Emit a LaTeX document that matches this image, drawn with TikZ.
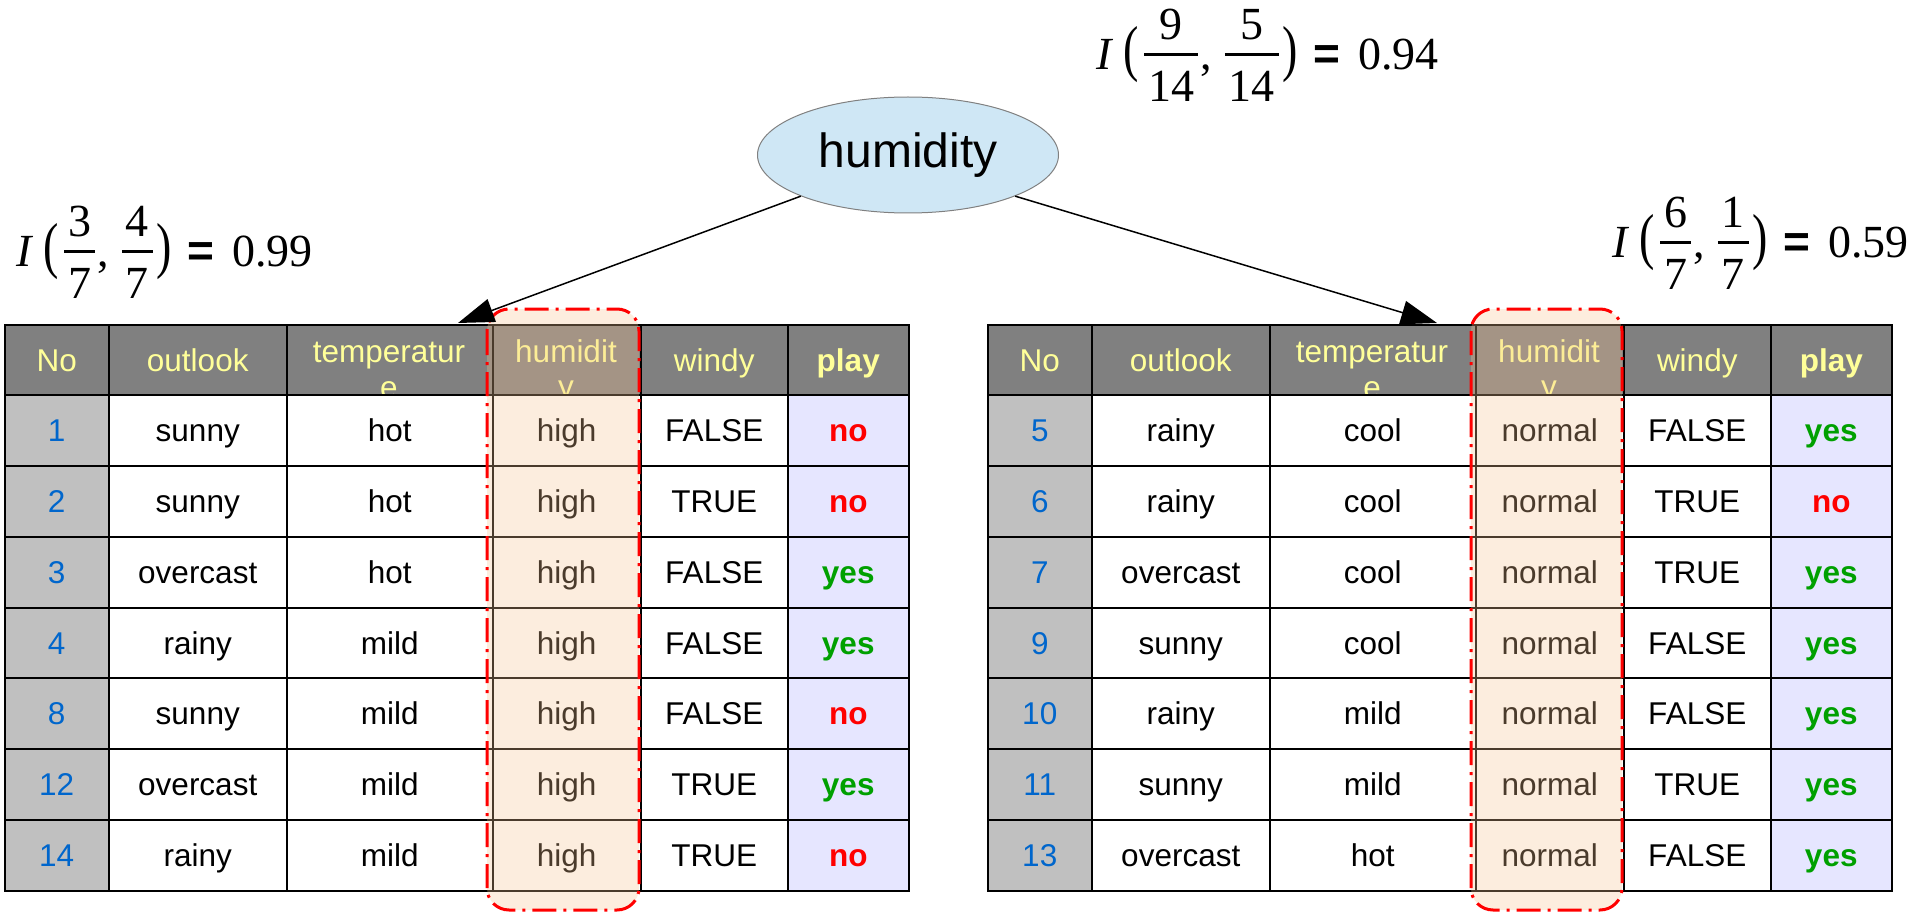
\RequirePackage{fix-cm}
\documentclass[tikz,border=0pt]{standalone}
\usepackage{amsmath}
\usepackage{graphicx}
\usepackage{fontspec}
\setmainfont{Liberation Sans}
\newfontfamily\tnr{Liberation Serif}
\usetikzlibrary{arrows.meta,shapes.geometric}

\definecolor{headgray}{RGB}{128,128,128}
\definecolor{headtext}{RGB}{255,255,153}
\definecolor{nogray}{RGB}{192,192,192}
\definecolor{playbg}{RGB}{230,230,255}
\definecolor{noblue}{RGB}{0,102,204}
\definecolor{yesgreen}{RGB}{0,160,0}
\definecolor{nored}{RGB}{255,0,0}
\definecolor{rootblue}{RGB}{207,231,245}
\definecolor{peach}{RGB}{248,196,146}

\newcommand{\cellfont}{\fontsize{31.5}{36}\selectfont}
%% fraction with serif digits and a wide bar
\newcommand{\ifr}[2]{{\genfrac{}{}{2.5pt}{0}%
  {\hspace{4pt}\raisebox{-4.5pt}{\tnr #1}\hspace{4pt}}%
  {\hspace{4pt}\raisebox{-4pt}{\tnr #2}\hspace{4pt}}}}
\newcommand{\bigpar}[1]{\raisebox{-4pt}{\scalebox{1}[1.35]{\tnr #1}}}
%% I(a/b, c/d) = value
\newcommand{\info}[5]{$\raisebox{-3.5pt}{\tnr\itshape I}\hspace{12pt}\bigpar{(}\hspace{4pt}%
  \ifr{#1}{#2}\hspace{1pt}\raisebox{-3.5pt}{\tnr ,}\hspace{12pt}\ifr{#3}{#4}\hspace{2pt}%
  \bigpar{)}\hspace{16pt}\raisebox{-4pt}{\bfseries =}\hspace{18pt}\raisebox{-3.5pt}{\tnr #5}$}

\tikzset{
  cell/.style={draw=black, line width=1.5pt, fill=white, anchor=north west, inner sep=0pt,
    minimum height=71pt, text height=22.6pt, text depth=0pt, font=\cellfont},
  headcell/.style={cell, fill=headgray, text=headtext, minimum height=70pt},
  wrapped/.style={anchor=base, inner sep=0pt, text=headtext, font=\cellfont},
  playyes/.style={text=yesgreen},
  playno/.style={text=nored},
  hilite/.style={draw=red, line width=3pt, dash pattern=on 24pt off 7pt on 3pt off 7pt,
    fill=peach, fill opacity=0.3, rounded corners=22pt},
  formula/.style={anchor=west, inner sep=0pt, font=\fontsize{46}{54}\selectfont},
  arr/.style={line width=1.5pt, -{Triangle[length=36pt,width=24pt]}}
}

%% header of one table
\newcommand{\headrow}{%
  \node[headcell, minimum width=104pt] (hno)   at (4,324)   {No};
  \node[headcell, minimum width=178pt] (hout)  at (108,324) {outlook};
  \node[headcell, minimum width=206pt] (htemp) at (286,324) {};
  \node[headcell, minimum width=148pt] (hhum)  at (492,324) {};
  \node[headcell, minimum width=147pt] (hwind) at (640,324) {windy};
  \node[headcell, minimum width=121pt, font=\cellfont\bfseries] (hplay) at (787,324) {play};
  \begin{scope}
    \clip (286,324) rectangle (640,394);
    \node[wrapped] at (389,362) {temperatur};
    \node[wrapped] at (389,398) {e};
    \node[wrapped] at (566,362) {humidit};
    \node[wrapped] at (566,397) {y};
  \end{scope}
  \draw[line width=2.5pt] (hno.south west) -- (hplay.south east);
}

%% one data row: top, no, outlook, temperature, humidity, windy, play
\newcommand{\datarow}[7]{%
  \node[cell, fill=nogray, text=noblue, minimum width=104pt] (no#2) at (4,#1) {#2};
  \node[cell, minimum width=178pt] (out#2)  at (108,#1) {#3};
  \node[cell, minimum width=206pt] (temp#2) at (286,#1) {#4};
  \node[cell, minimum width=148pt] (hum#2)  at (492,#1) {#5};
  \node[cell, minimum width=147pt] (wind#2) at (640,#1) {#6};
  \node[cell, fill=playbg, font=\cellfont\bfseries, play#7, minimum width=121pt] (play#2) at (787,#1) {#7};
}

\begin{document}
\begin{tikzpicture}[x=1pt, y=-1pt]
\useasboundingbox (0,0) rectangle (1931,912);

%% root node and split values
\node[ellipse, draw=gray, line width=1pt, fill=rootblue, minimum width=301pt, minimum height=116pt,
  inner sep=0pt, font=\fontsize{48}{56}\selectfont] (root) at (908,155) {humidity};

\node[formula] (infoRoot)   at (1096,55)  {\info{9}{14}{5}{14}{0.94}};
\node[formula] (infoHigh)   at (16,252)   {\info{3}{7}{4}{7}{0.99}};
\node[formula] (infoNormal) at (1612,243) {\info{6}{7}{1}{7}{0.59}};

%% humidity = high
\begin{scope}[name prefix=L-]
  \headrow
  \datarow{394}{1}{sunny}{hot}{high}{FALSE}{no}
  \datarow{465}{2}{sunny}{hot}{high}{TRUE}{no}
  \datarow{536}{3}{overcast}{hot}{high}{FALSE}{yes}
  \datarow{607}{4}{rainy}{mild}{high}{FALSE}{yes}
  \datarow{677}{8}{sunny}{mild}{high}{FALSE}{no}
  \datarow{748}{12}{overcast}{mild}{high}{TRUE}{yes}
  \datarow{819}{14}{rainy}{mild}{high}{TRUE}{no}
  \draw[hilite] (487,309) rectangle (639,910);
  \coordinate (tip) at (458,323);
\end{scope}

%% humidity = normal
\begin{scope}[name prefix=R-, shift={(983,0)}]
  \headrow
  \datarow{394}{5}{rainy}{cool}{normal}{FALSE}{yes}
  \datarow{465}{6}{rainy}{cool}{normal}{TRUE}{no}
  \datarow{536}{7}{overcast}{cool}{normal}{TRUE}{yes}
  \datarow{607}{9}{sunny}{cool}{normal}{FALSE}{yes}
  \datarow{677}{10}{rainy}{mild}{normal}{FALSE}{yes}
  \datarow{748}{11}{sunny}{mild}{normal}{TRUE}{yes}
  \datarow{819}{13}{overcast}{hot}{normal}{FALSE}{yes}
  \draw[hilite] (488,309) rectangle (639,910);
  \coordinate (tip) at (454,323);
\end{scope}

%% branches
\draw[arr] (root.201) -- (L-tip);
\draw[arr] (root.-21) -- (R-tip);

\end{tikzpicture}
\end{document}
